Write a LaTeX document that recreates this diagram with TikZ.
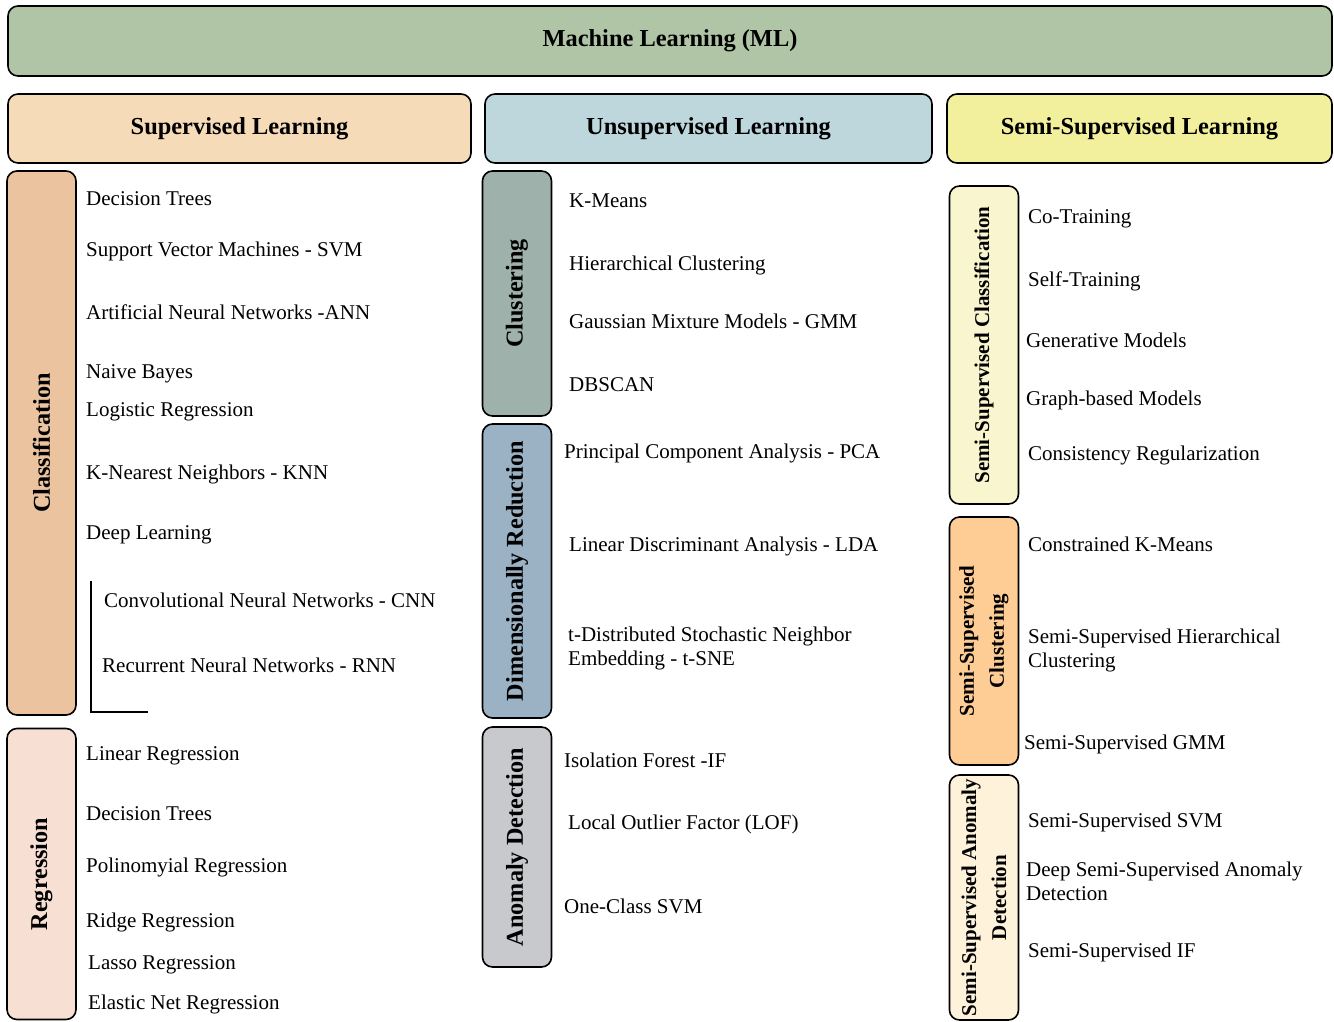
\documentclass[tikz,border=0pt]{standalone}
\usepackage{fontspec}
\setmainfont{Liberation Serif}
\newcommand\mlhead{\fontsize{24.4}{28}\selectfont\bfseries}
\newcommand\mlside{\fontsize{24.2}{28}\selectfont\bfseries}
\newcommand\mlsemi{\fontsize{21}{30}\selectfont\bfseries}
\newcommand\mlitem{\fontsize{21}{24}\selectfont}
\definecolor{mlgreen}{HTML}{AFC5A5}
\definecolor{suphead}{HTML}{F6DBB8}
\definecolor{unsuphead}{HTML}{BDD7DC}
\definecolor{semihead}{HTML}{F2F09C}
\definecolor{classfill}{HTML}{EBC39E}
\definecolor{regfill}{HTML}{F8DFD4}
\definecolor{clustfill}{HTML}{9EB1AA}
\definecolor{dimfill}{HTML}{9BB1C4}
\definecolor{anomfill}{HTML}{C8C9CD}
\definecolor{ssclassfill}{HTML}{F9F6CF}
\definecolor{ssclustfill}{HTML}{FECC95}
\definecolor{ssanomfill}{HTML}{FEF3DA}
\tikzset{
  rbox/.style={draw=black, line width=1.6pt, rounded corners=10pt, inner sep=0pt},
  headbox/.style={rbox, font=\mlhead},
  sidebox/.style={rbox, rotate=90, font=\mlside, minimum height=69pt, align=center},
  semibox/.style={rbox, rotate=90, font=\mlsemi, minimum height=69pt, align=center},
  item/.style={anchor=base west, font=\mlitem, inner sep=0pt},
  item2/.style={anchor=west, font=\mlitem, inner sep=0pt, align=left},
}
\begin{document}
\begin{tikzpicture}[x=1pt,y=-1pt]
\useasboundingbox (0,0) rectangle (1334,1021);

% top level
\node[headbox, fill=mlgreen, minimum width=1324pt, minimum height=70pt] (ml) at (670,41) {Machine Learning (ML)};

% learning paradigms
\node[headbox, fill=suphead, minimum width=463pt, minimum height=69pt] (sup) at (239.5,128.5) {Supervised Learning};
\node[headbox, fill=unsuphead, minimum width=447pt, minimum height=69pt] (unsup) at (708.5,128.5) {Unsupervised Learning};
\node[headbox, fill=semihead, minimum width=385pt, minimum height=69pt] (semi) at (1139.5,128.5) {Semi-Supervised Learning};

% supervised: categories
\node[sidebox, fill=classfill, minimum width=544pt] (class) at (41.5,443) {Classification};
\node[sidebox, fill=regfill, minimum width=291pt] (reg) at (41.5,874) {Regression};

% unsupervised: categories
\node[sidebox, fill=clustfill, minimum width=245pt] (clust) at (517,293.5) {Clustering};
\node[sidebox, fill=dimfill, minimum width=294pt] (dim) at (517,571) {Dimensionally Reduction};
\node[sidebox, fill=anomfill, minimum width=240pt] (anom) at (517,847) {Anomaly Detection};

% semi-supervised: categories
\node[semibox, fill=ssclassfill, minimum width=318pt] (ssclass) at (984,345) {Semi-Supervised Classification};
\node[semibox, fill=ssclustfill, minimum width=248pt] (ssclust) at (984,641) {Semi-Supervised\\Clustering};
\node[semibox, fill=ssanomfill, minimum width=245pt] (ssanom) at (984,897.5) {Semi-Supervised Anomaly\\Detection};

% classification methods
\node[item] (c1) at (86,205) {Decision Trees};
\node[item] (c2) at (86,256) {Support Vector Machines - SVM};
\node[item] (c3) at (86,319) {Artificial Neural Networks -ANN};
\node[item] (c4) at (86,378) {Naive Bayes};
\node[item] (c5) at (86,416) {Logistic Regression};
\node[item] (c6) at (86,479) {K-Nearest Neighbors - KNN};
\node[item] (c7) at (86,539) {Deep Learning};
\node[item] (c8) at (104,607) {Convolutional Neural Networks - CNN};
\node[item] (c9) at (102,672) {Recurrent Neural Networks - RNN};

% deep learning bracket
\coordinate (dlt) at (91,581);
\coordinate (dlc) at (91,712);
\coordinate (dle) at (148,712);
\draw[line width=1.3pt] (dlt) -- (dlc) -- (dle);

% regression methods
\node[item] (r1) at (86,760) {Linear Regression};
\node[item] (r2) at (86,820) {Decision Trees};
\node[item] (r3) at (86,872) {Polinomyial Regression};
\node[item] (r4) at (86,927) {Ridge Regression};
\node[item] (r5) at (88,969) {Lasso Regression};
\node[item] (r6) at (88,1009) {Elastic Net Regression};

% clustering methods
\node[item] (u1) at (569,207) {K-Means};
\node[item] (u2) at (569,270) {Hierarchical Clustering};
\node[item] (u3) at (569,328) {Gaussian Mixture Models - GMM};
\node[item] (u4) at (569,391) {DBSCAN};

% dimensionality reduction methods
\node[item] (d1) at (564,458) {Principal Component Analysis - PCA};
\node[item] (d2) at (569,551) {Linear Discriminant Analysis - LDA};
\node[item2] (d3) at (568,648) {t-Distributed Stochastic Neighbor\\Embedding - t-SNE};

% anomaly detection methods
\node[item] (a1) at (564,767) {Isolation Forest -IF};
\node[item] (a2) at (568,829) {Local Outlier Factor (LOF)};
\node[item] (a3) at (564,913) {One-Class SVM};

% semi-supervised classification methods
\node[item] (s1) at (1028,223) {Co-Training};
\node[item] (s2) at (1028,286) {Self-Training};
\node[item] (s3) at (1026,347) {Generative Models};
\node[item] (s4) at (1026,405) {Graph-based Models};
\node[item] (s5) at (1028,460) {Consistency Regularization};

% semi-supervised clustering methods
\node[item] (s6) at (1028,551) {Constrained K-Means};
\node[item2] (s7) at (1028,650) {Semi-Supervised Hierarchical\\Clustering};
\node[item] (s8) at (1024,749) {Semi-Supervised GMM};

% semi-supervised anomaly detection methods
\node[item] (s9) at (1028,827) {Semi-Supervised SVM};
\node[item2] (s10) at (1026,881) {Deep Semi-Supervised Anomaly\\Detection};
\node[item] (s11) at (1028,957) {Semi-Supervised IF};
\end{tikzpicture}
\end{document}
